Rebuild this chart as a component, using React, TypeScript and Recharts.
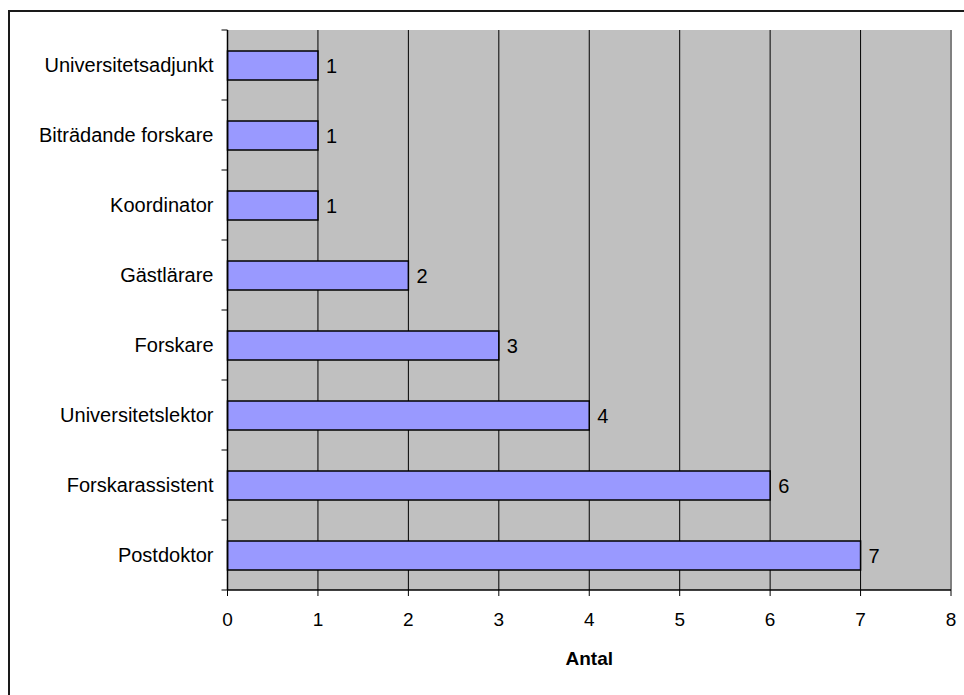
import React from "react";
import { BarChart, Bar, XAxis, YAxis, CartesianGrid, LabelList, ReferenceLine } from "recharts";

const categories = [
  "Universitetsadjunkt",
  "Biträdande forskare",
  "Koordinator",
  "Gästlärare",
  "Forskare",
  "Universitetslektor",
  "Forskarassistent",
  "Postdoktor",
];
const antal = [1, 1, 1, 2, 3, 4, 6, 7];
const xTicks = [0, 1, 2, 3, 4, 5, 6, 7, 8];
const axisTitle = "Antal";

const data = categories.map((name, i) => ({ name, antal: antal[i] }));

const W = 964;
const H = 695;
const M = { top: 30, right: 13, bottom: 25, left: 8 };
const Y_W = 219.5;
const X_H = 80;
const plotH = H - M.top - M.bottom - X_H;
const bandHalf = plotH / categories.length / 2;
const FONT = "'Liberation Sans', Arial, sans-serif";
const FS = 20;
const FS_TICK = 19;

const YTick = (props: any) => {
  const { x, y, payload, index } = props;
  const axisX = x + 14;
  return (
    <g>
      <line x1={axisX - 6} x2={axisX} y1={y - bandHalf} y2={y - bandHalf} stroke="#000" strokeWidth={1} />
      {index === categories.length - 1 && (
        <line x1={axisX - 6} x2={axisX} y1={y + bandHalf} y2={y + bandHalf} stroke="#000" strokeWidth={1} />
      )}
      <text x={x} y={y} dy="0.35em" textAnchor="end" fontSize={FS} fontFamily={FONT} fill="#000">
        {payload.value}
      </text>
    </g>
  );
};

export default function App() {
  return (
    <div style={{ position: "absolute", left: 0, top: 0, width: W, height: H, background: "#fff", overflow: "hidden" }}>
      <div
        style={{
          position: "absolute",
          left: 8,
          top: 10,
          right: -4,
          bottom: -4,
          borderLeft: "2px solid #1a1a1a",
          borderTop: "2px solid #1a1a1a",
        }}
      />
      <div style={{ position: "absolute", left: 0, top: 0 }}>
        <BarChart width={W} height={H} data={data} layout="vertical" margin={M} barSize={29}>
          <CartesianGrid horizontal={false} vertical={true} stroke="#000" strokeWidth={1} fill="#c0c0c0" fillOpacity={1} />
          <XAxis
            type="number"
            domain={[0, 8]}
            ticks={xTicks}
            interval={0}
            height={X_H}
            tickSize={6}
            tickMargin={17}
            axisLine={{ stroke: "#000", strokeWidth: 1.5 }}
            tickLine={{ stroke: "#000" }}
            tick={{ fontSize: FS_TICK, fontFamily: FONT, fill: "#000" }}
            label={{ value: axisTitle, position: "insideBottom", offset: 5, fontSize: 19, fontWeight: "bold", fontFamily: FONT, fill: "#000" }}
          />
          <XAxis
            xAxisId="top"
            orientation="top"
            type="number"
            domain={[0, 8]}
            height={0}
            tick={false}
            tickLine={false}
            axisLine={{ stroke: "#808080", strokeWidth: 2 }}
          />
          <YAxis
            type="category"
            dataKey="name"
            width={Y_W}
            tickLine={false}
            tickSize={6}
            tickMargin={8}
            axisLine={{ stroke: "#000", strokeWidth: 1.5 }}
            tick={<YTick />}
            interval={0}
          />
          <ReferenceLine x={8} stroke="#808080" strokeWidth={2} />
          <Bar dataKey="antal" fill="#9999ff" stroke="#000" strokeWidth={1.5} isAnimationActive={false}>
            <LabelList dataKey="antal" position="right" offset={8} fontSize={FS} fontFamily={FONT} fill="#000" />
          </Bar>
        </BarChart>
      </div>
    </div>
  );
}
